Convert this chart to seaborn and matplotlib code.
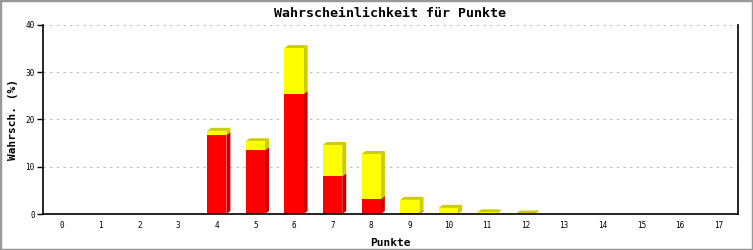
import matplotlib
matplotlib.use("Agg")
import matplotlib.pyplot as plt
import seaborn as sns
import pandas as pd
import numpy as np
from matplotlib.patches import Polygon, Rectangle

categories = [str(i) for i in range(18)]
red_vals = [0, 0, 0, 0, 16.7, 13.5, 25.4, 8.0, 3.2, 0.2, 0, 0, 0, 0, 0, 0, 0, 0]
total_vals = [0, 0, 0, 0, 17.6, 15.4, 35.1, 14.6, 12.7, 3.0, 1.3, 0.35, 0.1, 0, 0, 0, 0, 0]
title = "Wahrscheinlichkeit für Punkte"
xlabel = "Punkte"
ylabel = "Wahrsch. (%)"
yticks = [0, 10, 20, 30, 40]

df = pd.DataFrame({"Punkte": categories, "total": total_vals, "red": red_vals})

sns.set_style("white")
plt.rcParams["font.family"] = ["DejaVu Sans Mono", "DejaVu Sans"]
plt.rcParams["text.color"] = "black"
plt.rcParams["axes.labelcolor"] = "black"
plt.rcParams["xtick.color"] = "black"
plt.rcParams["ytick.color"] = "black"

W, H, DPI = 753, 250, 100
fig = plt.figure(figsize=(W / DPI, H / DPI), dpi=DPI)
ax = fig.add_axes([43 / W, 36 / H, (738 - 43) / W, (214 - 25) / H])

sns.barplot(data=df, x="Punkte", y="total", color="#ffff00", width=0.5,
            saturation=1, ax=ax, linewidth=0, zorder=3)
n_total = len(ax.patches)
sns.barplot(data=df, x="Punkte", y="red", color="#ff0000", width=0.5,
            saturation=1, ax=ax, linewidth=0, zorder=3)

ax.set_xlim(-0.5, len(categories) - 0.5)
ax.set_ylim(0, 40)
ax.set_yticks(yticks)
ax.set_yticklabels([str(t) for t in yticks])

# 3D faces
fig.canvas.draw()
inv = ax.transData.inverted()
o = ax.transData.transform((0, 0))
p = inv.transform((o[0] + 4, o[1] + 3))
dx, dy = p[0], p[1]

tot_patches = ax.patches[:n_total]
red_patches = ax.patches[n_total:]
for tp, rp in zip(tot_patches, red_patches):
    x0 = tp.get_x()
    w = tp.get_width()
    x1 = x0 + w
    t = tp.get_height()
    r = rp.get_height()
    if t <= 0:
        continue
    if r > 0:
        ax.add_patch(Polygon([(x1, 0), (x1 + dx, dy), (x1 + dx, r + dy), (x1, r)],
                             closed=True, facecolor="#cc0000", edgecolor="none", zorder=2))
    if t > r:
        ax.add_patch(Polygon([(x1, r), (x1 + dx, r + dy), (x1 + dx, t + dy), (x1, t)],
                             closed=True, facecolor="#cccc00", edgecolor="none", zorder=2))
    ax.add_patch(Polygon([(x0, t), (x0 + dx, t + dy), (x1 + dx, t + dy), (x1, t)],
                         closed=True, facecolor="#cccc00", edgecolor="none", zorder=2))

ax.yaxis.grid(True, color="#bbbbbb", linestyle=(0, (2, 4)), linewidth=0.8, zorder=0)
ax.xaxis.grid(False)
ax.set_axisbelow(True)

for s in ["left", "bottom", "right"]:
    ax.spines[s].set_visible(True)
    ax.spines[s].set_color("black")
    ax.spines[s].set_linewidth(1.2)
ax.spines["top"].set_visible(False)
ax.spines["bottom"].set_zorder(5)

ax.tick_params(axis="y", which="both", left=True, length=4, width=1, color="black",
               labelsize=5.5, pad=2)
ax.tick_params(axis="x", which="both", bottom=False, length=0, labelsize=5.5, pad=5)

ax.set_xlabel(xlabel, fontsize=8, fontweight="bold", labelpad=6)
ax.set_ylabel(ylabel, fontsize=8, fontweight="bold", labelpad=5)
ax.set_title(title, fontsize=9.5, fontweight="bold", pad=6)

fig.patches.append(Rectangle((0, 0), 1, 1, transform=fig.transFigure, fill=False,
                             edgecolor="#999999", linewidth=2.5))

fig.savefig("out.png", dpi=DPI, facecolor="white")
